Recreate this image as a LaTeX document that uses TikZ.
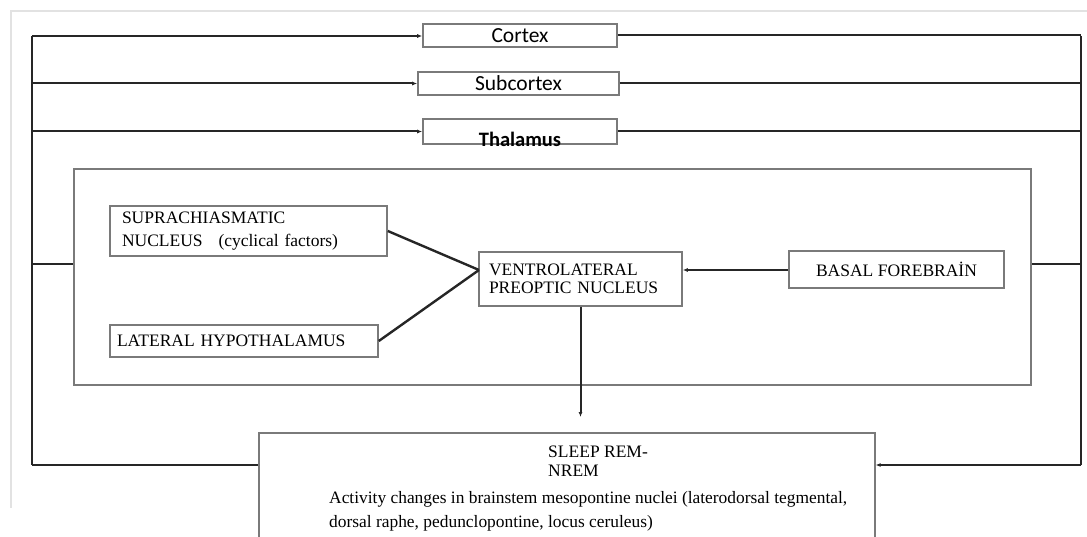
\documentclass[tikz,border=0pt]{standalone}
\usepackage{fontspec}
\setmainfont{Liberation Serif}
\newfontfamily\carlito{Carlito}
\usepackage{xcolor}
\definecolor{boxGray}{HTML}{7A7A7A}
\definecolor{lineDark}{HTML}{262626}
\definecolor{pageGray}{HTML}{E2E2E2}
\usetikzlibrary{arrows.meta}

\tikzset{
  cellbox/.style={draw=boxGray, line width=1.6pt, inner sep=0pt},
  toplabel/.style={font=\carlito\fontsize{21.5}{24}\selectfont},
  framelink/.style={lineDark, line width=2.6pt},
  toplink/.style={lineDark, line width=2pt},
  tip/.style={-{Latex[length=5pt,width=4pt]}},
}

\begin{document}
\begin{tikzpicture}[x=1pt, y=-1pt]
  \useasboundingbox (0,0) rectangle (1087,537);
  \clip (0,0) rectangle (1087,537);
  % faint page border
  \draw[pageGray, line width=1.5pt] (11,508) -- (11,11) -- (1087,11);
  % corners of the outer frame
  \coordinate (tl) at (32,36);
  \coordinate (bl) at (32,465);
  \coordinate (tr) at (1081,36);
  \coordinate (br) at (1081,465);
  \coordinate (lmid) at (32,264);
  \coordinate (rmid) at (1081,264);
  % top boxes
  \node[cellbox, toplabel, minimum width=194, minimum height=23] (cortex) at (520,35.5) {Cortex};
  \node[cellbox, toplabel, minimum width=201, minimum height=23] (subcortex) at (518.5,83.5) {Subcortex};
  \node[cellbox, minimum width=194, minimum height=25] (thalamus) at (520,131.5) {};
  \node[font=\carlito\bfseries\fontsize{20.5}{24}\selectfont] (thaltext) at ([yshift=-8pt]thalamus.center) {Thalamus};
  % hypothalamus frame and its boxes
  \node[draw=boxGray, line width=2pt, minimum width=957, minimum height=216, inner sep=0pt] (hypo) at (552.5,277) {};
  \node[cellbox, minimum width=277, minimum height=50, text width=253, inner xsep=12pt, align=left, font=\fontsize{17.5}{23}\selectfont] (scn) at (248.5,231) {SUPRACHIASMATIC\\NUCLEUS\hspace{10pt} (cyclical factors)};
  \node[cellbox, minimum width=268, minimum height=32, text width=254, inner xsep=7pt, align=left, font=\fontsize{17.5}{20}\selectfont] (lh) at (244,341) {LATERAL HYPOTHALAMUS};
  \node[cellbox, minimum width=203, minimum height=54, text width=183, inner xsep=10pt, align=left, font=\fontsize{17.5}{18}\selectfont] (vlpo) at (580.5,279) {VENTROLATERAL\\PREOPTIC NUCLEUS};
  \node[cellbox, minimum width=215, minimum height=37, font=\fontsize{17.5}{20}\selectfont] (basal) at (896.5,269.5) {BASAL FOREBRAİN};
  \coordinate (vin) at (479,270);
  % sleep box, running off the bottom
  \node[cellbox, anchor=north west, minimum width=616, minimum height=140] (sleep) at (258,432) {};
  \node[anchor=base west, align=left, inner sep=0pt, font=\fontsize{17.5}{19}\selectfont] (sleeptitle) at (548,476) {SLEEP REM-\\NREM};
  \node[anchor=base west, align=left, inner sep=0pt, font=\fontsize{17.4}{24}\selectfont] (sleepnote) at (329,527) {Activity changes in brainstem mesopontine nuclei (laterodorsal tegmental,\\dorsal raphe, pedunclopontine, locus ceruleus)};
  % outer frame
  \draw[framelink] (tl) -- (bl);
  \draw[framelink] (tr) -- (br);
  \draw[toplink, tip] (tl) -- (tl -| cortex.west);
  \draw[toplink, tip] (tl |- subcortex.west) -- (subcortex.west);
  \draw[toplink, tip] (tl |- thalamus.west) -- (thalamus.west);
  \draw[toplink] (cortex.east) -- (tr |- cortex.east);
  \draw[toplink] (subcortex.east) -- (tr |- subcortex.east);
  \draw[toplink] (thalamus.east) -- (tr |- thalamus.east);
  \draw[toplink] (lmid) -- (lmid -| hypo.west);
  \draw[toplink] (rmid) -- (rmid -| hypo.east);
  \draw[framelink] (bl) -- (bl -| sleep.west);
  \draw[framelink, tip] (br) -- (br -| sleep.east);
  % inside the hypothalamus
  \draw[lineDark, line width=2.4pt] (scn.east) -- (vin);
  \draw[lineDark, line width=2.4pt] (lh.east) -- (vin);
  \draw[toplink, tip] (basal.west |- vin) -- (vlpo.east |- vin);
  \draw[toplink, tip, shorten >=15pt] (vlpo.south) -- (vlpo.south |- sleep.north);
\end{tikzpicture}
\end{document}
